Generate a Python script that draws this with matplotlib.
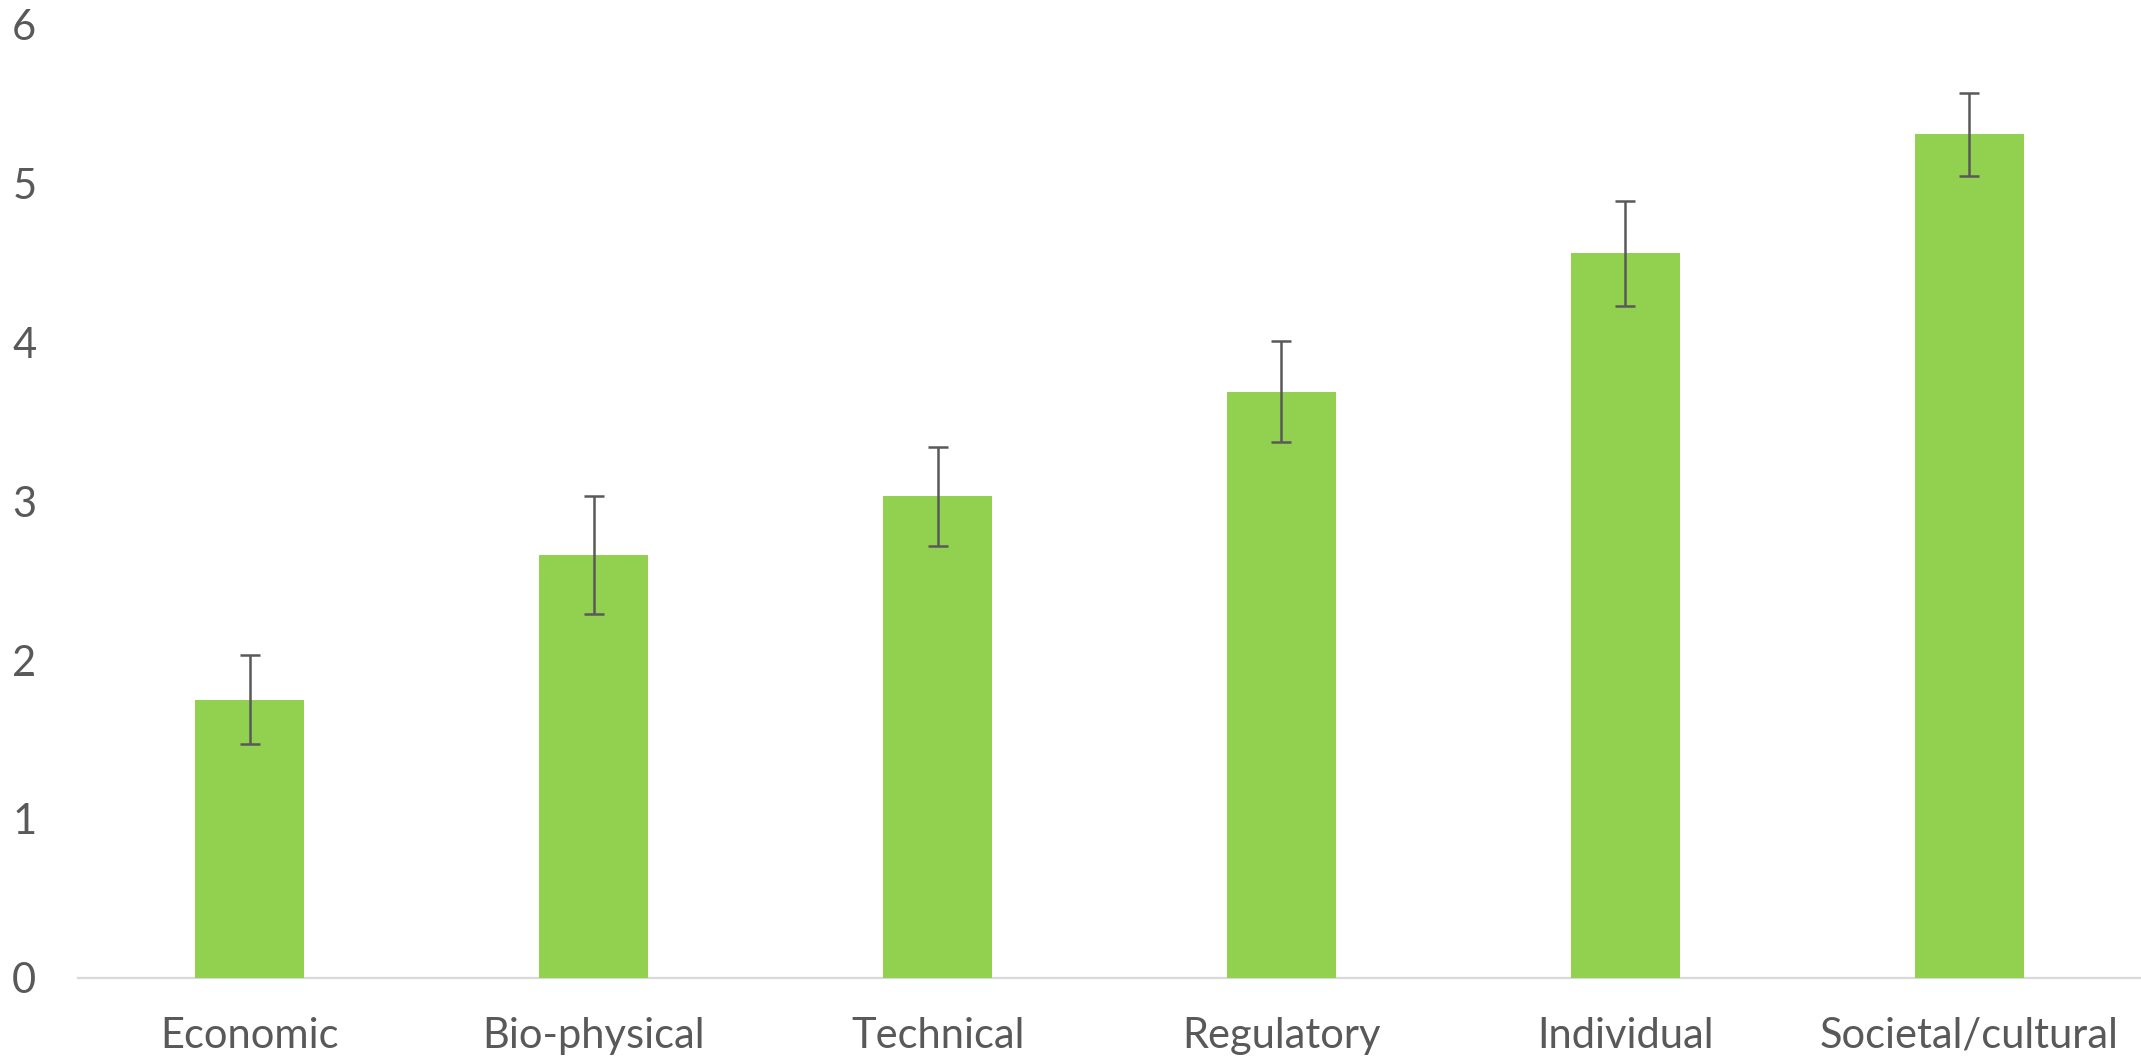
import numpy as np
import matplotlib
matplotlib.use("Agg")
import matplotlib.pyplot as plt

categories = ["Economic", "Bio-physical", "Technical", "Regulatory", "Individual", "Societal/cultural"]
means = [1.75, 2.66, 3.03, 3.69, 4.56, 5.31]
errors = [0.28, 0.37, 0.31, 0.32, 0.33, 0.26]
yticks = [0, 1, 2, 3, 4, 5, 6]

plt.rcParams['font.family'] = ['Lato', 'DejaVu Sans']

fig = plt.figure(figsize=(21.41, 10.63), dpi=100)
ax = fig.add_axes([78 / 2141, 85.3 / 1063, 1 - 78 / 2141, (977.7 - 24.6) / 1063])

x = np.arange(len(categories))
ax.bar(x, means, width=0.317, color="#92D050", zorder=2)
ax.errorbar(x, means, yerr=errors, fmt="none", ecolor="#595959",
            elinewidth=1.8, capsize=7, capthick=1.8, zorder=3)

ax.set_xlim(-0.5, len(categories) - 0.5)
ax.set_ylim(0, 6)
ax.set_yticks(yticks)
ax.set_xticks(x)
ax.set_xticklabels(categories)

for side in ["top", "right", "left"]:
    ax.spines[side].set_visible(False)
ax.spines["bottom"].set_color("#D9D9D9")
ax.spines["bottom"].set_linewidth(1.6)
ax.spines["bottom"].set_zorder(1)

ax.tick_params(axis="both", length=0, labelsize=30, labelcolor="#595959")
ax.tick_params(axis="y", pad=30)
ax.tick_params(axis="x", pad=28)

fig.savefig("out.png", dpi=100, facecolor="white")
